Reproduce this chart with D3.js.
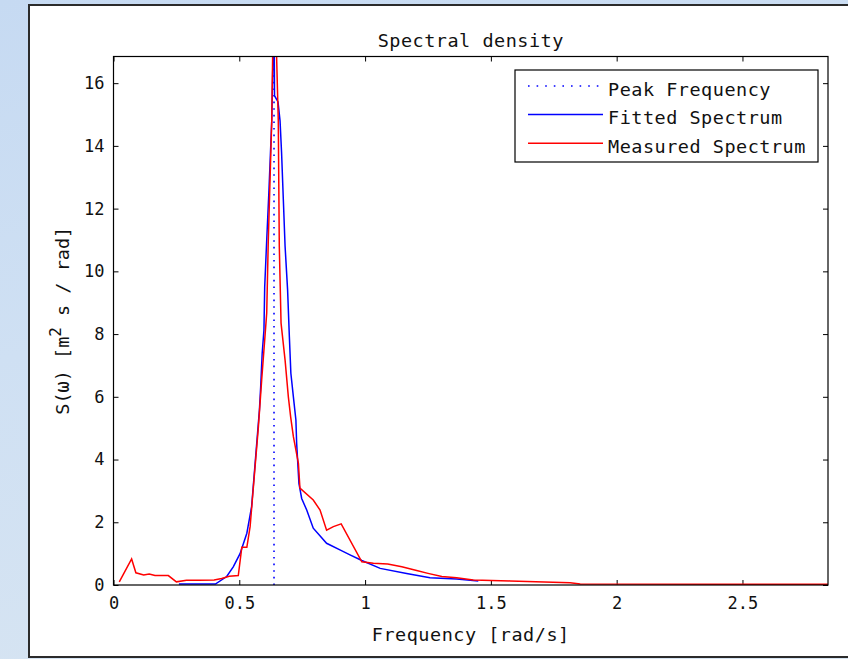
<!DOCTYPE html>
<html lang="en">
<head>
<meta charset="UTF-8">
<title>Spectral density</title>
<script src="https://d3js.org/d3.v7.min.js"></script>
<style>
  body { margin: 0; overflow: hidden; }
  text { font-family: "DejaVu Sans Mono", "Liberation Mono", monospace; fill: #111; }
</style>
</head>
<body>
<script>

    // measured spectrum (rad/s, m^2 s / rad)
    var measFreq = [0.023, 0.072, 0.089, 0.12, 0.142, 0.165, 0.218, 0.25, 0.29, 0.34, 0.40, 0.43, 0.46, 0.496,
        0.51, 0.53, 0.543, 0.576, 0.589, 0.602, 0.609, 0.615, 0.629, 0.638, 0.655, 0.659, 0.666, 0.682,
        0.695, 0.704, 0.715, 0.735, 0.741, 0.794, 0.821, 0.847, 0.874, 0.905, 0.987, 1.033, 1.09, 1.146,
        1.205, 1.25, 1.305, 1.364, 1.43, 1.576, 1.815, 1.855, 2.84];
    var measS = [0.10, 0.83, 0.39, 0.32, 0.35, 0.30, 0.30, 0.10, 0.15, 0.15, 0.16, 0.21, 0.28, 0.30,
        1.20, 1.20, 1.86, 5.05, 6.54, 7.92, 8.67, 10.9, 14.8, 20.0, 14.8, 10.8, 8.35, 7.17,
        6.0, 5.37, 4.73, 3.88, 3.09, 2.71, 2.39, 1.75, 1.86, 1.95, 0.74, 0.69, 0.67, 0.58,
        0.46, 0.37, 0.27, 0.23, 0.16, 0.13, 0.07, 0.03, 0.02];

    // fitted spectrum
    var fitFreq = [0.26, 0.405, 0.45, 0.476, 0.503, 0.53, 0.549, 0.58, 0.585, 0.591, 0.598, 0.601, 0.609,
        0.618, 0.629, 0.638, 0.640, 0.654, 0.662, 0.668, 0.675, 0.682, 0.692, 0.699, 0.705, 0.715, 0.725,
        0.728, 0.737, 0.748, 0.768, 0.794, 0.847, 0.9, 0.94, 0.987, 1.06, 1.165, 1.258, 1.364, 1.45];
    var fitS = [0.03, 0.03, 0.27, 0.58, 1.0, 1.65, 2.5, 5.58, 6.32, 7.39, 8.13, 9.5, 11.0,
        12.6, 14.8, 18.5, 15.6, 15.4, 14.8, 13.8, 12.3, 10.8, 9.41, 7.92, 6.75, 6.0, 5.26,
        4.52, 3.24, 2.76, 2.39, 1.81, 1.33, 1.12, 0.96, 0.78, 0.53, 0.37, 0.23, 0.19, 0.13];

    var peakFreq = 0.638;

    var xTicks = [0, 0.5, 1, 1.5, 2, 2.5];
    var yTicks = [0, 2, 4, 6, 8, 10, 12, 14, 16];
    var legendLabels = ["Peak Frequency", "Fitted Spectrum", "Measured Spectrum"];

    var width = 848;
    var height = 659;

    var box = {left: 113.5, right: 828, top: 56.5, bottom: 585};

    var svg = d3.select("body").append("svg")
        .attr("width", width)
        .attr("height", height);

    // background
    var defs = svg.append("defs");
    var grad = defs.append("linearGradient")
        .attr("id", "bg")
        .attr("x1", 0).attr("y1", 0).attr("x2", 0.3).attr("y2", 1);
    grad.append("stop").attr("offset", "0%").attr("stop-color", "#c6daf2");
    grad.append("stop").attr("offset", "50%").attr("stop-color", "#cfe0f3");
    grad.append("stop").attr("offset", "100%").attr("stop-color", "#d6e4f2");

    defs.append("clipPath").attr("id", "clip")
        .append("rect")
        .attr("x", box.left)
        .attr("y", box.top)
        .attr("width", box.right - box.left)
        .attr("height", box.bottom - box.top);

    svg.append("rect")
        .attr("width", width)
        .attr("height", height)
        .attr("fill", "url(#bg)");

    // white figure panel
    svg.append("rect")
        .attr("x", 29)
        .attr("y", 5)
        .attr("width", 840)
        .attr("height", 652)
        .attr("fill", "#fff")
        .attr("stroke", "#2b2b2b")
        .attr("stroke-width", 2);

    var xScale = d3.scaleLinear()
        .domain([0, 2.84])
        .range([box.left, box.right]);
    var yScale = d3.scaleLinear()
        .domain([0, 16.85])
        .range([box.bottom, box.top]);

    var fmt = function (d) { return String(d); };

    var g = svg.append("g");

    var xAxis = d3.axisBottom(xScale).tickValues(xTicks).tickFormat(fmt)
        .tickSizeInner(-5).tickSizeOuter(0).tickPadding(12);
    var xAxisTop = d3.axisTop(xScale).tickValues(xTicks).tickFormat("")
        .tickSizeInner(-5).tickSizeOuter(0);
    var yAxis = d3.axisLeft(yScale).tickValues(yTicks).tickFormat(fmt)
        .tickSizeInner(-5).tickSizeOuter(0).tickPadding(9);
    var yAxisRight = d3.axisRight(yScale).tickValues(yTicks).tickFormat("")
        .tickSizeInner(-5).tickSizeOuter(0);

    function styleAxis(sel) {
        sel.select(".domain").remove();
        sel.selectAll("line").attr("stroke", "#000");
        sel.selectAll("text")
            .attr("font-family", "DejaVu Sans Mono")
            .attr("font-size", "17px")
            .attr("fill", "#111");
    }

    g.append("g").attr("transform", "translate(0," + box.bottom + ")").call(xAxis).call(styleAxis);
    g.append("g").attr("transform", "translate(0," + box.top + ")").call(xAxisTop).call(styleAxis);
    g.append("g").attr("transform", "translate(" + box.left + ",0)").call(yAxis).call(styleAxis);
    g.append("g").attr("transform", "translate(" + box.right + ",0)").call(yAxisRight).call(styleAxis);

    // data lines
    var plot = g.append("g").attr("clip-path", "url(#clip)");

    var line = d3.line()
        .x(function (d) { return xScale(d[0]); })
        .y(function (d) { return yScale(d[1]); });

    var fitted = fitFreq.map(function (f, i) { return [f, fitS[i]]; });
    var measured = measFreq.map(function (f, i) { return [f, measS[i]]; });

    plot.append("line")
        .attr("x1", xScale(peakFreq))
        .attr("x2", xScale(peakFreq))
        .attr("y1", yScale(0))
        .attr("y2", yScale(16.85))
        .attr("stroke", "#0000ff")
        .attr("stroke-width", 1.6)
        .attr("stroke-dasharray", "1.6,5");

    plot.append("path")
        .datum(fitted)
        .attr("fill", "none")
        .attr("stroke", "#0000ff")
        .attr("stroke-width", 1.5)
        .attr("d", line);

    plot.append("path")
        .datum(measured)
        .attr("fill", "none")
        .attr("stroke", "#ff0000")
        .attr("stroke-width", 1.5)
        .attr("d", line);

    // axes box
    g.append("rect")
        .attr("x", box.left)
        .attr("y", box.top)
        .attr("width", box.right - box.left)
        .attr("height", box.bottom - box.top)
        .attr("fill", "none")
        .attr("stroke", "#000")
        .attr("stroke-width", 1.2);

    // title and labels
    g.append("text")
        .attr("x", (box.left + box.right) / 2)
        .attr("y", 40)
        .attr("text-anchor", "middle")
        .attr("dominant-baseline", "central")
        .attr("font-size", "18.5px")
        .attr("letter-spacing", "0.5px")
        .text("Spectral density");

    g.append("text")
        .attr("x", (box.left + box.right) / 2)
        .attr("y", 634)
        .attr("text-anchor", "middle")
        .attr("dominant-baseline", "central")
        .attr("font-size", "18.5px")
        .attr("letter-spacing", "0.5px")
        .text("Frequency [rad/s]");

    var ylab = g.append("text")
        .attr("transform", "translate(62," + ((box.top + box.bottom) / 2) + ") rotate(-90)")
        .attr("text-anchor", "middle")
        .attr("dominant-baseline", "central")
        .attr("font-size", "18.5px");
    ylab.append("tspan").text("S(\u03c9) [m");
    ylab.append("tspan").attr("baseline-shift", "40%").attr("font-size", "16px").text("2");
    ylab.append("tspan").text(" s / rad]");

    // legend
    var leg = g.append("g");
    leg.append("rect")
        .attr("x", 515)
        .attr("y", 70)
        .attr("width", 303)
        .attr("height", 92)
        .attr("fill", "#fff")
        .attr("stroke", "#000")
        .attr("stroke-width", 1.2);

    var legStyles = [
        {color: "#0000ff", dash: "1.6,7"},
        {color: "#0000ff", dash: null},
        {color: "#ff0000", dash: null}
    ];
    legendLabels.forEach(function (lab, i) {
        var yy = 86 + i * 28.6;
        leg.append("line")
            .attr("x1", 528).attr("x2", 603)
            .attr("y1", yy).attr("y2", yy)
            .attr("stroke", legStyles[i].color)
            .attr("stroke-width", 1.5)
            .attr("stroke-dasharray", legStyles[i].dash);
        leg.append("text")
            .attr("x", 608)
            .attr("y", yy + 3)
            .attr("dominant-baseline", "central")
            .attr("font-size", "18.5px")
            .attr("letter-spacing", "0.5px")
            .text(lab);
    });

</script>
</body>
</html>
